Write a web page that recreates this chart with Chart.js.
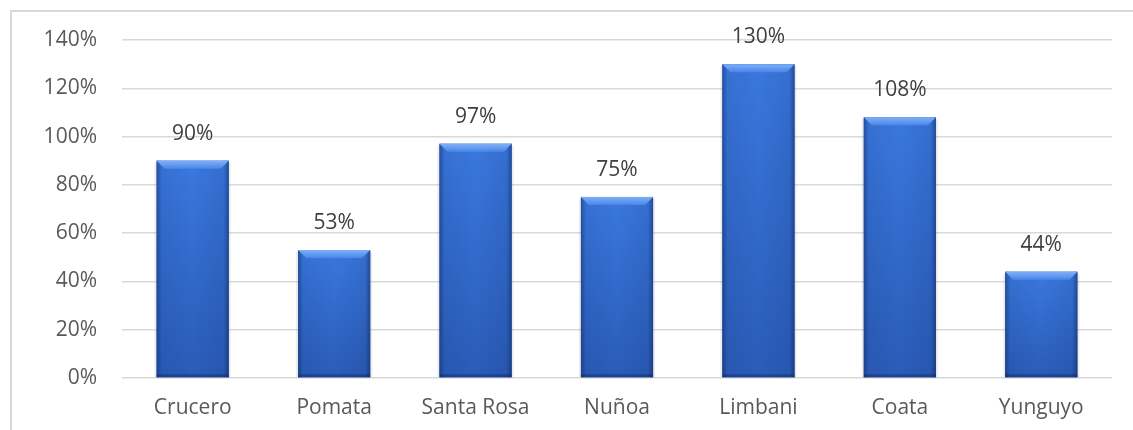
<!DOCTYPE html>
<html>
<head>
<meta charset="utf-8">
<script src="https://cdn.jsdelivr.net/npm/chart.js@4"></script>
<style>
  html, body { margin: 0; padding: 0; background: #fff; }
  #wrap { position: relative; width: 1133px; height: 430px; }
  #frame { position: absolute; left: 10px; top: 10px; right: -5px; bottom: -5px;
           border-top: 2px solid #d9d9d9; border-left: 2px solid #d9d9d9; }
  canvas { position: absolute; left: 0; top: 0; }
</style>
</head>
<body>
<div id="wrap">
  <div id="frame"></div>
  <canvas id="barChart" width="1133" height="430"></canvas>
</div>
<script>
// chart data
var categories = ['Crucero', 'Pomata', 'Santa Rosa', 'Nuñoa', 'Limbani', 'Coata', 'Yunguyo'];
var percentValues = [90, 53, 97, 75, 130, 108, 44];
var yTicks = [0, 20, 40, 60, 80, 100, 120, 140];

var fontFamily = '"Open Sans", "Noto Sans", sans-serif';

// shades each bar like the bevelled office-style column
var bevelBars = {
    id: 'bevelBars',
    afterDatasetsDraw: function (chart) {
        var ctx = chart.ctx;
        chart.getDatasetMeta(0).data.forEach(function (bar) {
            var x0 = bar.x - bar.width / 2, x1 = bar.x + bar.width / 2;
            var top = bar.y, bottom = bar.base;
            ctx.save();
            // side shadow
            ctx.fillStyle = 'rgba(0,0,0,0.08)';
            ctx.fillRect(x0 - 2, top + 2, bar.width + 4, bottom - top - 2);
            // main body
            var v = ctx.createLinearGradient(0, top, 0, bottom);
            v.addColorStop(0, '#3a78de');
            v.addColorStop(1, '#2a5cb8');
            ctx.fillStyle = v;
            ctx.fillRect(x0, top, bar.width, bottom - top);
            // darker edges
            var h = ctx.createLinearGradient(x0, 0, x1, 0);
            h.addColorStop(0, 'rgba(10,30,80,0.45)');
            h.addColorStop(0.07, 'rgba(10,30,80,0.08)');
            h.addColorStop(0.5, 'rgba(10,30,80,0)');
            h.addColorStop(0.93, 'rgba(10,30,80,0.10)');
            h.addColorStop(1, 'rgba(10,30,80,0.5)');
            ctx.fillStyle = h;
            ctx.fillRect(x0, top, bar.width, bottom - top);
            // top bevel
            var b = 8;
            ctx.beginPath();
            ctx.moveTo(x0, top);
            ctx.lineTo(x1, top);
            ctx.lineTo(x1 - b, top + b);
            ctx.lineTo(x0 + b, top + b);
            ctx.closePath();
            var g = ctx.createLinearGradient(0, top, 0, top + b);
            g.addColorStop(0, '#7fb0f7');
            g.addColorStop(1, '#4a86ea');
            ctx.fillStyle = g;
            ctx.fill();
            // bottom dark band
            ctx.fillStyle = 'rgba(10,30,80,0.35)';
            ctx.fillRect(x0, bottom - 3, bar.width, 3);
            ctx.restore();
        });
    }
};

// value labels above the bars
var valueLabels = {
    id: 'valueLabels',
    afterDatasetsDraw: function (chart) {
        var ctx = chart.ctx;
        ctx.save();
        ctx.font = '21px ' + fontFamily;
        ctx.fillStyle = '#404040';
        ctx.textAlign = 'center';
        ctx.textBaseline = 'middle';
        chart.getDatasetMeta(0).data.forEach(function (bar, i) {
            ctx.fillText(percentValues[i] + '%', bar.x, bar.y - 27);
        });
        ctx.restore();
    }
};

var ctx = document.getElementById('barChart').getContext('2d');
var barChart = new Chart(ctx, {
    type: 'bar',
    data: {
        labels: categories,
        datasets: [{
            data: percentValues,
            backgroundColor: '#2f66c8',
            borderWidth: 0,
            barPercentage: 0.51,
            categoryPercentage: 1
        }]
    },
    options: {
        responsive: false,
        animation: false,
        layout: { padding: { top: 40, right: 21, bottom: 0, left: 0 } },
        plugins: { legend: { display: false }, tooltip: { enabled: false } },
        scales: {
            x: {
                afterFit: function (axis) { axis.height = 52; },
                grid: { display: false, drawTicks: false },
                border: { display: false },
                ticks: { padding: 17, color: '#595959', font: { family: fontFamily, size: 21 } }
            },
            y: {
                min: 0,
                max: 140,
                afterBuildTicks: function (axis) {
                    axis.ticks = yTicks.map(function (v) { return { value: v }; });
                },
                afterFit: function (axis) { axis.width = 122; },
                grid: { color: '#d9d9d9', lineWidth: 1.5, drawTicks: false },
                border: { display: false },
                ticks: {
                    padding: 25,
                    color: '#595959',
                    font: { family: fontFamily, size: 21 },
                    callback: function (v) { return v + '%'; }
                }
            }
        }
    },
    plugins: [bevelBars, valueLabels]
});
</script>
</body>
</html>
